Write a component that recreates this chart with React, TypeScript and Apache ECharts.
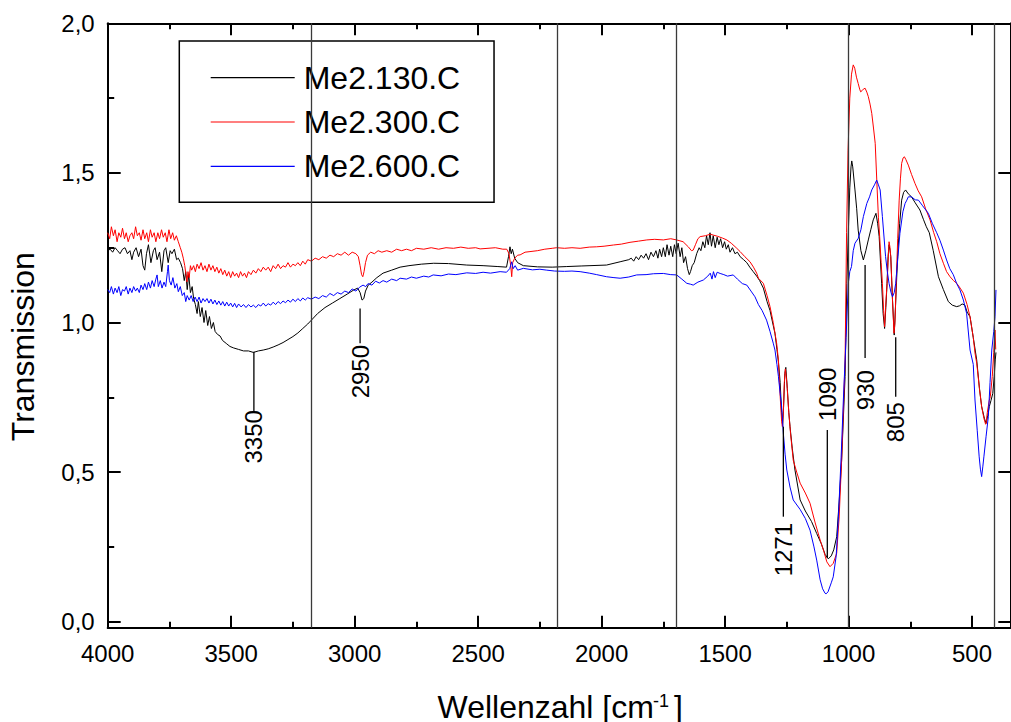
import React, { useEffect, useRef } from "react";
import * as echarts from "echarts";

const FONT = "'Liberation Sans', Arial, Helvetica, sans-serif";

const seriesNames = ["Me2.130.C", "Me2.300.C", "Me2.600.C"];
const seriesColors = ["#000000", "#ff0000", "#0000ff"];

const xMajorTicks = [500, 1000, 1500, 2000, 2500, 3000, 3500, 4000];
const xMinorTicks = [750, 1250, 1750, 2250, 2750, 3250, 3750];
const yMajorTicks = [0, 0.5, 1, 1.5, 2];
const yMinorTicks = [0.25, 0.75, 1.25, 1.75];

const separatorLines = [3175, 2178, 1696, 1003, 408];

const peakLabels = ["3350", "2950", "1271", "1090", "930", "805"];
const peakX = [3408, 2978, 1264, 1086, 933, 809];
const peakLineTop = [0.902, 1.047, 0.652, 0.641, 1.192, 0.951];
const peakLineBottom = [0.704, 0.931, 0.351, 0.213, 0.881, 0.752];
const peakTextY = [0.707, 0.925, 0.33, 0.671, 0.841, 0.734];
const peakTextSide = ["below", "below", "below", "above", "below", "below"];

const me2_130: [number, number][] = [
  [4000,1.24],[3990,1.245],[3980,1.235],[3970,1.25],[3960,1.24],[3950,1.23],[3940,1.245],[3930,1.25],[3920,1.23],[3910,1.24],
  [3902,1.21],[3895,1.235],[3885,1.25],[3875,1.22],[3865,1.245],[3857,1.19],[3850,1.175],[3843,1.23],[3835,1.26],[3825,1.2],
  [3815,1.24],[3808,1.25],[3800,1.21],[3790,1.235],[3781,1.17],[3772,1.24],[3765,1.25],[3755,1.2],[3747,1.24],[3740,1.23],
  [3730,1.245],[3721,1.21],[3714,1.215],[3705,1.2],[3697,1.18],[3690,1.14],[3684,1.17],[3678,1.11],[3672,1.16],[3665,1.1],
  [3658,1.12],[3652,1.08],[3645,1.06],[3638,1.03],[3633,1.07],[3625,1.02],[3618,1.05],[3610,1.0],[3603,1.04],[3595,0.99],
  [3588,1.02],[3580,0.98],[3572,1.0],[3565,0.97],[3555,0.96],[3545,0.955],[3535,0.94],[3520,0.93],[3505,0.92],[3490,0.915],
  [3470,0.91],[3450,0.905],[3430,0.905],[3410,0.9],[3390,0.905],[3370,0.908],[3350,0.912],[3330,0.918],[3310,0.925],[3290,0.933],
  [3270,0.943],[3250,0.953],[3230,0.965],[3210,0.98],[3190,0.995],[3175,1.008],[3150,1.03],[3120,1.05],[3090,1.065],[3060,1.08],
  [3030,1.095],[3005,1.108],[2988,1.115],[2978,1.1],[2970,1.075],[2963,1.08],[2956,1.105],[2945,1.125],[2930,1.135],[2910,1.15],
  [2885,1.165],[2850,1.175],[2816,1.185],[2780,1.19],[2730,1.195],[2680,1.198],[2620,1.197],[2546,1.192],[2480,1.19],[2420,1.187],
  [2385,1.185],[2377,1.22],[2371,1.253],[2366,1.23],[2361,1.245],[2352,1.215],[2340,1.2],[2317,1.19],[2260,1.186],[2200,1.185],
  [2141,1.187],[2080,1.189],[2047,1.19],[1980,1.192],[1925,1.203],[1890,1.21],[1880,1.215],[1870,1.205],[1860,1.22],[1850,1.21],
  [1840,1.225],[1830,1.215],[1820,1.23],[1810,1.21],[1800,1.235],[1790,1.22],[1780,1.24],[1772,1.215],[1765,1.245],[1757,1.22],
  [1750,1.25],[1742,1.22],[1735,1.26],[1727,1.225],[1720,1.255],[1712,1.22],[1705,1.26],[1698,1.23],[1690,1.265],[1682,1.22],
  [1675,1.25],[1668,1.2],[1660,1.22],[1652,1.18],[1645,1.16],[1640,1.17],[1633,1.19],[1625,1.2],[1615,1.23],[1605,1.25],
  [1598,1.24],[1590,1.27],[1582,1.25],[1575,1.29],[1568,1.26],[1561,1.3],[1555,1.255],[1548,1.29],[1540,1.25],[1532,1.285],
  [1525,1.26],[1518,1.28],[1510,1.25],[1502,1.27],[1495,1.245],[1487,1.26],[1480,1.235],[1470,1.25],[1460,1.23],[1450,1.235],
  [1439,1.22],[1425,1.21],[1412,1.2],[1400,1.185],[1386,1.17],[1372,1.155],[1360,1.14],[1345,1.115],[1330,1.07],[1318,1.04],
  [1305,0.99],[1298,0.964],[1290,0.91],[1283,0.86],[1277,0.8],[1271,0.7],[1267,0.655],[1263,0.72],[1258,0.83],[1254,0.85],
  [1248,0.78],[1242,0.7],[1237,0.652],[1228,0.58],[1217,0.507],[1196,0.407],[1175,0.37],[1150,0.335],[1129,0.295],[1110,0.26],
  [1095,0.225],[1082,0.21],[1070,0.22],[1060,0.24],[1048,0.284],[1038,0.4],[1028,0.54],[1014,0.82],[1007,1.131],[1001,1.3],
  [995,1.45],[990,1.52],[987,1.54],[983,1.52],[974,1.443],[967,1.38],[961,1.309],[950,1.24],[940,1.209],[930,1.24],
  [920,1.276],[910,1.31],[900,1.343],[889,1.365],[882,1.33],[876,1.287],[866,1.131],[860,1.03],[854,0.98],[849,1.05],
  [844,1.131],[840,1.22],[836,1.26],[832,1.24],[829,1.22],[822,1.075],[815,0.958],[810,1.05],[805,1.15],[800,1.242],
  [793,1.33],[785,1.409],[777,1.435],[769,1.443],[758,1.43],[745,1.42],[730,1.4],[711,1.376],[697,1.345],[685,1.32],
  [673,1.3],[657,1.24],[636,1.153],[616,1.11],[596,1.07],[580,1.058],[562,1.053],[550,1.056],[540,1.062],[529,1.058],
  [520,1.035],[508,1.019],[495,0.95],[481,0.875],[470,0.78],[461,0.719],[450,0.68],[443,0.663],[436,0.69],[430,0.719],
  [423,0.74],[416,0.763],[410,0.82],[406,0.875],[403,0.9]
];

const me2_300: [number, number][] = [
  [4000,1.3],[3992,1.28],[3985,1.32],[3977,1.29],[3970,1.31],[3962,1.27],[3955,1.3],[3947,1.285],[3940,1.315],[3932,1.28],
  [3925,1.3],[3917,1.27],[3910,1.29],[3902,1.3],[3895,1.28],[3887,1.32],[3880,1.29],[3872,1.3],[3865,1.275],[3857,1.31],
  [3850,1.28],[3842,1.3],[3835,1.27],[3827,1.31],[3820,1.285],[3812,1.3],[3805,1.27],[3797,1.3],[3790,1.28],[3782,1.31],
  [3775,1.285],[3767,1.3],[3760,1.27],[3752,1.31],[3745,1.28],[3737,1.3],[3730,1.275],[3722,1.29],[3714,1.27],[3706,1.25],
  [3700,1.235],[3694,1.215],[3688,1.19],[3683,1.16],[3679,1.136],[3675,1.17],[3670,1.15],[3665,1.19],[3660,1.175],[3652,1.19],
  [3645,1.17],[3638,1.195],[3630,1.18],[3622,1.2],[3614,1.175],[3606,1.19],[3598,1.17],[3590,1.195],[3582,1.175],[3574,1.19],
  [3566,1.17],[3558,1.185],[3550,1.165],[3542,1.18],[3534,1.16],[3526,1.175],[3518,1.155],[3510,1.17],[3502,1.15],[3494,1.17],
  [3486,1.155],[3478,1.165],[3470,1.15],[3462,1.17],[3454,1.155],[3446,1.165],[3438,1.15],[3430,1.17],[3420,1.16],[3410,1.175],
  [3400,1.165],[3390,1.18],[3380,1.17],[3370,1.185],[3360,1.175],[3350,1.185],[3340,1.17],[3330,1.19],[3320,1.18],[3310,1.195],
  [3300,1.18],[3290,1.19],[3280,1.185],[3270,1.2],[3260,1.185],[3250,1.195],[3240,1.19],[3230,1.2],[3220,1.19],[3210,1.205],
  [3200,1.195],[3190,1.21],[3175,1.205],[3160,1.215],[3145,1.21],[3130,1.22],[3115,1.215],[3100,1.225],[3085,1.22],[3070,1.23],
  [3055,1.225],[3040,1.235],[3025,1.225],[3010,1.235],[2995,1.23],[2985,1.22],[2978,1.19],[2972,1.16],[2967,1.153],[2962,1.17],
  [2956,1.2],[2948,1.225],[2935,1.235],[2920,1.23],[2905,1.24],[2890,1.235],[2870,1.24],[2850,1.235],[2830,1.245],[2810,1.24],
  [2790,1.245],[2770,1.24],[2750,1.248],[2720,1.245],[2690,1.25],[2660,1.245],[2630,1.25],[2600,1.248],[2570,1.252],[2540,1.248],
  [2510,1.25],[2492,1.246],[2460,1.248],[2430,1.25],[2400,1.245],[2384,1.245],[2375,1.23],[2368,1.19],[2364,1.153],[2360,1.2],
  [2352,1.215],[2340,1.225],[2330,1.226],[2310,1.235],[2290,1.237],[2260,1.24],[2230,1.245],[2200,1.248],[2182,1.25],[2150,1.248],
  [2120,1.25],[2087,1.248],[2050,1.252],[2020,1.253],[1990,1.255],[1952,1.259],[1920,1.262],[1885,1.268],[1850,1.272],[1817,1.276],
  [1785,1.278],[1750,1.276],[1720,1.28],[1696,1.276],[1670,1.27],[1649,1.253],[1636,1.24],[1629,1.242],[1620,1.26],[1610,1.28],
  [1601,1.287],[1580,1.29],[1560,1.295],[1547,1.292],[1530,1.288],[1510,1.282],[1493,1.276],[1475,1.265],[1455,1.25],[1439,1.237],
  [1420,1.22],[1399,1.203],[1385,1.185],[1372,1.165],[1365,1.148],[1345,1.131],[1330,1.09],[1318,1.053],[1305,1.0],[1291,0.93],
  [1284,0.875],[1280,0.8],[1276,0.741],[1271,0.67],[1268,0.652],[1264,0.7],[1260,0.8],[1256,0.845],[1250,0.8],[1242,0.7],
  [1235,0.63],[1224,0.54],[1210,0.5],[1196,0.463],[1175,0.43],[1156,0.396],[1135,0.33],[1115,0.273],[1100,0.235],[1088,0.2],
  [1075,0.184],[1062,0.195],[1048,0.229],[1038,0.35],[1028,0.54],[1014,0.875],[1008,1.3],[1002,1.576],[995,1.75],[988,1.83],
  [981,1.861],[975,1.85],[968,1.82],[961,1.799],[955,1.78],[951,1.771],[945,1.775],[940,1.78],[933,1.783],[926,1.77],
  [920,1.755],[913,1.73],[906,1.699],[899,1.65],[892,1.599],[884,1.443],[879,1.35],[874,1.287],[868,1.2],[863,1.131],
  [858,1.04],[854,0.986],[850,1.05],[844,1.131],[840,1.2],[836,1.27],[832,1.25],[829,1.22],[822,1.075],[816,0.964],
  [812,1.0],[807,1.131],[801,1.28],[795,1.409],[790,1.48],[785,1.532],[779,1.55],[774,1.554],[768,1.545],[758,1.526],
  [745,1.495],[731,1.465],[718,1.44],[704,1.42],[688,1.38],[670,1.343],[655,1.3],[643,1.27],[630,1.23],[616,1.198],
  [603,1.17],[589,1.153],[575,1.14],[562,1.131],[548,1.115],[535,1.098],[520,1.06],[508,1.019],[495,0.95],[488,0.898],
  [481,0.864],[470,0.78],[461,0.719],[452,0.68],[445,0.66],[443,0.663],[438,0.7],[430,0.74],[426,0.752],[418,0.82],
  [412,0.9],[407,0.975],[404,0.91]
];

const me2_600: [number, number][] = [
  [4000,1.11],[3992,1.1],[3985,1.12],[3977,1.095],[3970,1.115],[3962,1.1],[3955,1.12],[3947,1.09],[3940,1.11],[3932,1.105],
  [3925,1.12],[3917,1.095],[3910,1.115],[3902,1.1],[3895,1.12],[3887,1.105],[3880,1.115],[3872,1.1],[3865,1.125],[3857,1.11],
  [3850,1.13],[3842,1.11],[3835,1.135],[3827,1.115],[3820,1.14],[3812,1.12],[3805,1.145],[3800,1.159],[3795,1.12],[3787,1.14],
  [3780,1.115],[3772,1.135],[3765,1.12],[3758,1.17],[3755,1.192],[3750,1.14],[3743,1.125],[3736,1.15],[3728,1.115],[3720,1.13],
  [3714,1.103],[3706,1.12],[3698,1.09],[3690,1.1],[3684,1.07],[3678,1.09],[3670,1.075],[3662,1.09],[3654,1.07],[3646,1.085],
  [3638,1.07],[3630,1.085],[3622,1.065],[3614,1.08],[3606,1.07],[3598,1.08],[3590,1.065],[3582,1.078],[3574,1.062],[3566,1.075],
  [3558,1.06],[3550,1.072],[3542,1.058],[3534,1.07],[3526,1.055],[3518,1.068],[3510,1.055],[3502,1.065],[3494,1.052],[3486,1.064],
  [3478,1.05],[3470,1.062],[3460,1.052],[3450,1.06],[3440,1.05],[3430,1.06],[3420,1.052],[3410,1.058],[3400,1.05],[3390,1.06],
  [3380,1.055],[3370,1.065],[3360,1.055],[3350,1.063],[3340,1.058],[3330,1.068],[3320,1.06],[3310,1.07],[3300,1.063],[3290,1.072],
  [3280,1.066],[3270,1.075],[3260,1.068],[3250,1.078],[3240,1.07],[3230,1.08],[3220,1.072],[3210,1.082],[3200,1.075],[3190,1.083],
  [3175,1.078],[3160,1.085],[3145,1.08],[3130,1.09],[3115,1.085],[3100,1.097],[3085,1.09],[3070,1.1],[3055,1.095],[3040,1.105],
  [3025,1.1],[3010,1.112],[2995,1.105],[2980,1.118],[2966,1.125],[2955,1.12],[2946,1.13],[2930,1.125],[2915,1.138],[2900,1.132],
  [2885,1.14],[2870,1.135],[2850,1.145],[2830,1.14],[2816,1.148],[2790,1.145],[2770,1.152],[2750,1.148],[2720,1.155],[2700,1.152],
  [2682,1.159],[2650,1.156],[2620,1.162],[2590,1.16],[2546,1.166],[2510,1.164],[2480,1.168],[2450,1.165],[2411,1.17],[2385,1.168],
  [2372,1.18],[2364,1.203],[2358,1.18],[2350,1.19],[2340,1.175],[2317,1.181],[2280,1.176],[2250,1.178],[2222,1.175],[2190,1.172],
  [2150,1.171],[2120,1.172],[2087,1.17],[2050,1.165],[2020,1.16],[1980,1.153],[1950,1.15],[1925,1.148],[1890,1.152],[1858,1.159],
  [1820,1.16],[1790,1.163],[1750,1.164],[1720,1.16],[1696,1.159],[1675,1.145],[1655,1.131],[1640,1.128],[1629,1.125],[1610,1.135],
  [1588,1.142],[1570,1.155],[1560,1.165],[1553,1.145],[1547,1.17],[1540,1.15],[1532,1.168],[1520,1.164],[1505,1.16],[1490,1.155],
  [1467,1.159],[1450,1.145],[1430,1.13],[1412,1.125],[1395,1.105],[1379,1.086],[1365,1.06],[1350,1.04],[1332,1.008],[1318,0.97],
  [1305,0.931],[1298,0.908],[1290,0.86],[1284,0.82],[1277,0.763],[1271,0.72],[1264,0.63],[1257,0.56],[1250,0.507],[1237,0.45],
  [1224,0.407],[1196,0.375],[1175,0.345],[1156,0.306],[1140,0.25],[1129,0.206],[1115,0.14],[1105,0.11],[1095,0.095],[1091,0.093],
  [1083,0.1],[1070,0.13],[1062,0.15],[1050,0.22],[1041,0.351],[1030,0.55],[1021,0.741],[1010,0.95],[1001,1.131],[995,1.17],
  [988,1.187],[981,1.24],[974,1.265],[961,1.281],[950,1.31],[940,1.354],[926,1.398],[915,1.42],[906,1.443],[895,1.46],
  [886,1.476],[879,1.46],[872,1.443],[863,1.354],[850,1.22],[843,1.17],[836,1.131],[828,1.1],[822,1.086],[815,1.1],
  [809,1.131],[800,1.22],[792,1.298],[780,1.37],[771,1.398],[764,1.409],[758,1.42],[745,1.42],[730,1.41],[717,1.409],
  [700,1.39],[677,1.365],[660,1.33],[643,1.3],[630,1.275],[616,1.242],[603,1.209],[590,1.18],[576,1.16],[562,1.13],
  [549,1.109],[535,1.075],[522,1.031],[508,0.908],[495,0.86],[488,0.741],[479,0.64],[471,0.551],[466,0.51],[461,0.485],
  [456,0.52],[452,0.551],[443,0.62],[434,0.685],[427,0.8],[420,0.908],[412,0.97],[407,1.019],[403,1.109]
];

const seriesData = [me2_130, me2_300, me2_600];

const X_MIN = 345;
const X_MAX = 4000;
const Y_MIN = -0.02;
const Y_MAX = 2;

function xAxisDef(position: string, ticks: number[], len: number, showLine: boolean, showLabel: boolean) {
  return {
    type: "value",
    min: X_MIN,
    max: X_MAX,
    inverse: true,
    position,
    splitLine: { show: false },
    axisLine: { show: showLine, onZero: false, lineStyle: { color: "#000", width: 2 } },
    axisTick: { show: true, inside: true, length: len, customValues: ticks, lineStyle: { color: "#000", width: 2 } },
    axisLabel: {
      show: showLabel,
      customValues: ticks,
      fontSize: 24,
      fontFamily: FONT,
      color: "#000",
      margin: 14,
      formatter: (v: number) => String(Math.round(v)),
    },
  };
}

function yAxisDef(position: string, ticks: number[], len: number, showLine: boolean, showLabel: boolean) {
  return {
    type: "value",
    min: Y_MIN,
    max: Y_MAX,
    position,
    splitLine: { show: false },
    axisLine: { show: showLine, onZero: false, lineStyle: { color: "#000", width: 2 } },
    axisTick: { show: true, inside: true, length: len, customValues: ticks, lineStyle: { color: "#000", width: 2 } },
    axisLabel: {
      show: showLabel,
      customValues: ticks,
      fontSize: 24,
      fontFamily: FONT,
      color: "#000",
      margin: 13,
      formatter: (v: number) => v.toFixed(1).replace(".", ","),
    },
  };
}

export default function App() {
  const ref = useRef<HTMLDivElement>(null);

  useEffect(() => {
    if (!ref.current) return;
    const chart = echarts.init(ref.current, null, { renderer: "svg" });

    const lineSeries = seriesNames.map((name, i) => ({
      name,
      type: "line",
      data: seriesData[i],
      showSymbol: false,
      symbol: "none",
      color: seriesColors[i],
      itemStyle: { color: seriesColors[i] },
      lineStyle: { color: seriesColors[i], width: 1 },
      z: 3,
      markLine:
        i === 0
          ? {
              silent: true,
              symbol: ["none", "none"],
              label: { show: false },
              lineStyle: { color: "#3a3a3a", width: 1.3, type: "solid" },
              data: separatorLines.map((x) => ({ xAxis: x })),
            }
          : undefined,
    }));

    const annotationSeries = {
      type: "custom",
      xAxisIndex: 0,
      yAxisIndex: 0,
      silent: true,
      z: 5,
      data: peakX.map((x, i) => [x, peakLineTop[i], peakLineBottom[i], peakTextY[i]]),
      renderItem: (params: any, api: any) => {
        const i = params.dataIndex;
        const p1 = api.coord([api.value(0), api.value(1)]);
        const p2 = api.coord([api.value(0), api.value(2)]);
        const pt = api.coord([api.value(0), api.value(3)]);
        return {
          type: "group",
          children: [
            {
              type: "line",
              shape: { x1: p1[0], y1: p1[1], x2: p2[0], y2: p2[1] },
              style: { stroke: "#000", lineWidth: 1.3 },
            },
            {
              type: "text",
              x: pt[0],
              y: pt[1],
              rotation: Math.PI / 2,
              style: {
                text: peakLabels[i],
                fontSize: 24,
                fontFamily: FONT,
                fill: "#000",
                align: peakTextSide[i] === "above" ? "left" : "right",
                verticalAlign: "middle",
              },
            },
          ],
        };
      },
    };

    chart.setOption({
      animation: false,
      backgroundColor: "#ffffff",
      grid: { left: 107.7, right: 0.7, top: 23.3, bottom: 94.3, containLabel: false },
      xAxis: [
        xAxisDef("bottom", xMajorTicks, 12, true, true),
        xAxisDef("bottom", xMinorTicks, 6, false, false),
        xAxisDef("top", xMajorTicks, 12, true, false),
        xAxisDef("top", xMinorTicks, 6, false, false),
      ],
      yAxis: [
        yAxisDef("left", yMajorTicks, 13, true, true),
        yAxisDef("left", yMinorTicks, 6.5, false, false),
        yAxisDef("right", yMajorTicks, 12, true, false),
      ],
      legend: {
        show: true,
        orient: "vertical",
        left: 179.3,
        top: 41,
        data: seriesNames,
        icon: "rect",
        itemWidth: 84,
        itemHeight: 1.2,
        itemGap: 12.3,
        padding: [20.7, 33.8, 20, 31.4],
        borderColor: "#000",
        borderWidth: 1.5,
        borderRadius: 0,
        backgroundColor: "#ffffff",
        selectedMode: false,
        textStyle: { fontSize: 32, fontFamily: FONT, color: "#000", padding: [0, 0, 0, 4] },
      },
      graphic: [
        {
          type: "text",
          x: 22.9,
          y: 346.7,
          rotation: Math.PI / 2,
          style: { text: "Transmission", fontSize: 32, fontFamily: FONT, fill: "#000", align: "center", verticalAlign: "middle" },
        },
        {
          type: "text",
          x: 437.5,
          y: 706.5,
          style: { text: "Wellenzahl [cm", fontSize: 32, fontFamily: FONT, fill: "#000", align: "left", verticalAlign: "middle" },
        },
        {
          type: "text",
          x: 653,
          y: 700.5,
          style: { text: "-1", fontSize: 18, fontFamily: FONT, fill: "#000", align: "left", verticalAlign: "middle" },
        },
        {
          type: "text",
          x: 674,
          y: 706.5,
          style: { text: "]", fontSize: 32, fontFamily: FONT, fill: "#000", align: "left", verticalAlign: "middle" },
        },
      ],
      series: [...lineSeries, annotationSeries],
    });

    return () => chart.dispose();
  }, []);

  return <div ref={ref} style={{ position: "absolute", left: 0, top: 0, width: 1011, height: 722 }} />;
}
